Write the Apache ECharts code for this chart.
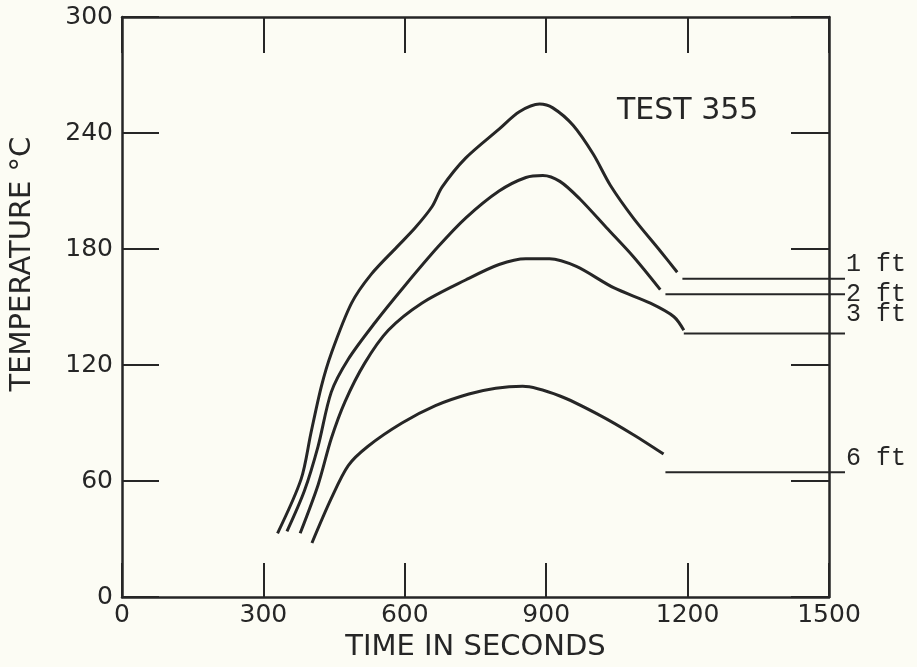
<!DOCTYPE html>
<html>
<head>
<meta charset="utf-8">
<script src="https://cdn.jsdelivr.net/npm/echarts@6/dist/echarts.min.js"></script>
<style>
html,body{margin:0;padding:0;background:#fcfcf4;}
#chart{width:917px;height:667px;}
</style>
</head>
<body>
<div id="chart"></div>
<script>
// ---- data ----
const xTicks = [0, 300, 600, 900, 1200, 1500];
const yTicks = [0, 60, 120, 180, 240, 300];

const time1ft = [330, 380, 401, 423, 444, 487, 529, 583, 622, 658, 679, 729, 800, 843, 886, 914, 957, 1000, 1036, 1085, 1142, 1178];
const temp1ft = [33, 61, 85, 109, 126, 152, 167, 181, 191, 202, 212, 227, 242, 251, 255, 253, 244, 229, 213, 196, 179, 168];

const time2ft = [350, 387, 416, 444, 480, 537, 600, 670, 729, 800, 857, 893, 929, 971, 1028, 1085, 1142];
const temp2ft = [34, 55, 78, 106, 123, 142, 161, 181, 196, 210, 217, 218, 215, 206, 191, 176, 159];

const time3ft = [378, 416, 444, 473, 515, 565, 636, 729, 800, 857, 907, 964, 1043, 1121, 1171, 1192];
const temp3ft = [33, 58, 82, 101, 121, 138, 152, 164, 172, 175, 175, 171, 160, 152, 145, 138];

const time6ft = [403, 444, 480, 522, 594, 665, 736, 793, 850, 929, 1014, 1085, 1149];
const temp6ft = [28, 51, 68, 78, 90, 99, 105, 108, 109, 104, 94, 84, 74];

const leaderLabels = ['1 ft', '2 ft', '3 ft', '6 ft'];
const leaderTemp = [166, 158, 138, 67];
const leaderStart = [1189, 1153, 1192, 1153];
const leaderEnd = [1534, 1534, 1534, 1534];

const curveTimes = [time1ft, time2ft, time3ft, time6ft];
const curveTemps = [temp1ft, temp2ft, temp3ft, temp6ft];

// ---- chart ----
const ink = '#262626';
const labelOffsets = [[0, -14], [0, 0], [0, -19], [0, -14]];

const series = [];
curveTimes.forEach((t, i) => {
  series.push({
    type: 'line',
    name: leaderLabels[i] + ' curve',
    xAxisIndex: 0, yAxisIndex: 0,
    data: t.map((x, j) => [x, curveTemps[i][j]]),
    showSymbol: false,
    smooth: 0.3,
    lineStyle: { color: ink, width: 3 },
    z: 3
  });
});
leaderLabels.forEach((lab, i) => {
  series.push({
    type: 'line',
    name: lab,
    xAxisIndex: 2, yAxisIndex: 2,
    data: [[leaderStart[i], leaderTemp[i]], [leaderEnd[i], leaderTemp[i]]],
    showSymbol: false,
    clip: false,
    lineStyle: { color: ink, width: 2 },
    endLabel: {
      show: true,
      formatter: lab,
      distance: 1,
      offset: labelOffsets[i],
      fontFamily: 'Liberation Mono',
      fontSize: 25,
      color: ink
    },
    z: 3
  });
});

const axisFont = { fontFamily: 'DejaVu Sans', fontSize: 25, color: ink };
const titleFont = { fontFamily: 'DejaVu Sans', fontSize: 29, color: ink };
const plain = v => String(v);

const option = {
  backgroundColor: '#fcfcf4',
  animation: false,
  title: {
    text: 'TEST 355',
    left: 612,
    top: 91,
    textStyle: { fontFamily: 'DejaVu Sans', fontSize: 30, fontWeight: 'normal', color: ink }
  },
  grid: [
    { left: 122, right: 88, top: 17, bottom: 64 },
    { left: 122, right: 72, top: 17, bottom: 64 }
  ],
  xAxis: [
    {
      type: 'value', gridIndex: 0, position: 'bottom',
      min: xTicks[0], max: xTicks[xTicks.length - 1], interval: xTicks[1] - xTicks[0],
      name: 'TIME IN SECONDS', nameLocation: 'middle', nameGap: 29,
      nameTextStyle: titleFont,
      axisLine: { onZero: false, lineStyle: { color: ink, width: 2.5 } },
      axisTick: { inside: true, length: 34, lineStyle: { color: ink, width: 2 } },
      axisLabel: Object.assign({ margin: 6, formatter: plain }, axisFont),
      splitLine: { show: false }
    },
    {
      type: 'value', gridIndex: 0, position: 'top',
      min: xTicks[0], max: xTicks[xTicks.length - 1], interval: xTicks[1] - xTicks[0],
      axisLine: { onZero: false, lineStyle: { color: ink, width: 2.5 } },
      axisTick: { inside: true, length: 36, lineStyle: { color: ink, width: 2 } },
      axisLabel: { show: false },
      splitLine: { show: false }
    },
    {
      type: 'value', gridIndex: 1,
      min: 0, max: leaderEnd[0],
      show: false
    }
  ],
  yAxis: [
    {
      type: 'value', gridIndex: 0, position: 'left',
      min: yTicks[0], max: yTicks[yTicks.length - 1], interval: yTicks[1] - yTicks[0],
      name: 'TEMPERATURE °C', nameLocation: 'middle', nameGap: 85,
      nameTextStyle: Object.assign({ padding: [0, 0, 0, 86] }, titleFont),
      axisLine: { onZero: false, lineStyle: { color: ink, width: 2.5 } },
      axisTick: { inside: true, length: 37, lineStyle: { color: ink, width: 2 } },
      axisLabel: Object.assign({ margin: 9, formatter: plain }, axisFont),
      splitLine: { show: false }
    },
    {
      type: 'value', gridIndex: 0, position: 'right',
      min: yTicks[0], max: yTicks[yTicks.length - 1], interval: yTicks[1] - yTicks[0],
      axisLine: { onZero: false, lineStyle: { color: ink, width: 2.5 } },
      axisTick: { inside: true, length: 38, lineStyle: { color: ink, width: 2 } },
      axisLabel: { show: false },
      splitLine: { show: false }
    },
    {
      type: 'value', gridIndex: 1,
      min: yTicks[0], max: yTicks[yTicks.length - 1],
      show: false
    }
  ],
  series: series
};

const chart = echarts.init(document.getElementById('chart'), null, { renderer: 'canvas' });
chart.setOption(option);
</script>
</body>
</html>
